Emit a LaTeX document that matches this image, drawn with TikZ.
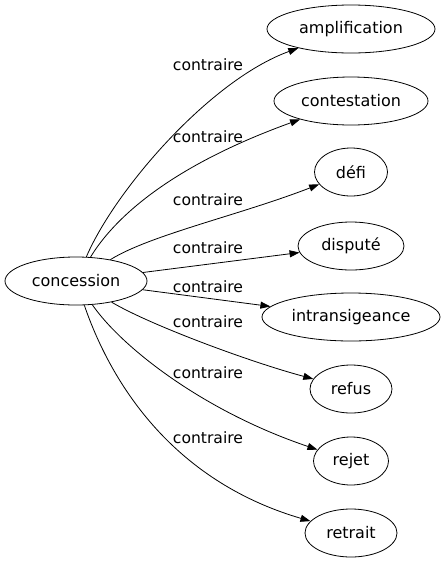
\documentclass[tikz,border=0pt]{standalone}
\usepackage{fontspec}
\setmainfont{DejaVu Sans}
\usetikzlibrary{shapes.geometric,arrows.meta}
\tikzstyle{mot} = [ellipse, draw=black, line width=.8pt, inner sep=0pt, minimum height=48pt, font=\fontsize{16}{19}\selectfont]
\tikzstyle{fleche} = [-{Triangle[length=10pt,width=7pt]}, line width=.8pt]
\newcommand{\taille}{\fontsize{15.6}{18}\selectfont}

\begin{document}
\begin{tikzpicture}[x=1pt, y=-1pt, font=\taille]
			\useasboundingbox (0,0) rectangle (446,563);
			\node [mot, minimum width=142pt] (conc) at (76,281) {concession};
			\node [mot, minimum width=168pt] (ampl) at (351,29) {amplification};
			\node [mot, minimum width=154pt] (cont) at (351,101) {contestation};
			\node [mot, minimum width=73pt] (defi) at (351,172) {défi};
			\node [mot, minimum width=106pt] (disp) at (351,246) {disputé};
			\node [mot, minimum width=178pt] (intr) at (351,317) {intransigeance};
			\node [mot, minimum width=82pt] (refu) at (351,389) {refus};
			\node [mot, minimum width=75pt] (reje) at (351,461) {rejet};
			\node [mot, minimum width=92pt] (retr) at (351,533) {retrait};
			\foreach \y [count=\i] in {65,137,200,248,287,322,373,438}
				\node (lab\i) at (208,\y) {contraire};
			\draw[fleche] (conc) .. controls (115,190) and (210,80) .. (ampl);
			\draw[fleche] (conc) .. controls (110,225) and (160,170) .. (cont);
			\draw[fleche] (conc) .. controls (150,235) and (240,215) .. (defi);
			\draw[fleche] (conc) -- (disp);
			\draw[fleche] (conc) -- (intr);
			\draw[fleche] (conc) .. controls (150,325) and (250,362) .. (refu);
			\draw[fleche] (conc) .. controls (120,345) and (200,410) .. (reje);
			\draw[fleche] (conc) .. controls (110,380) and (170,480) .. (retr);
		\end{tikzpicture}
\end{document}
